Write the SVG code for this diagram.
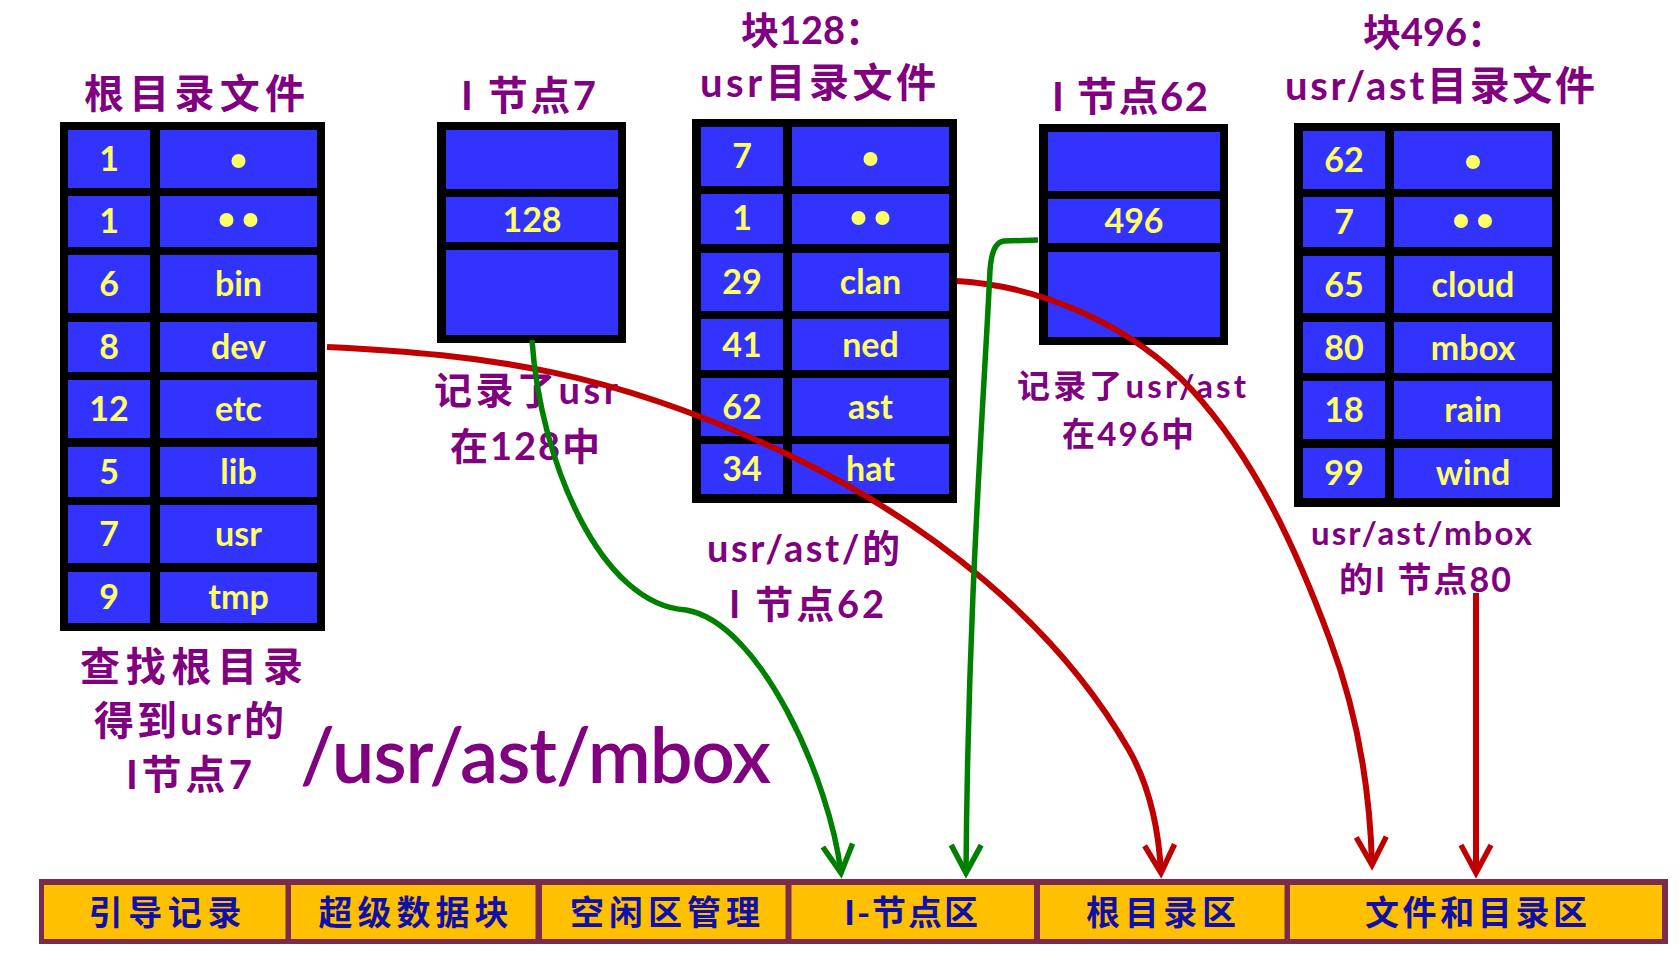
<svg xmlns="http://www.w3.org/2000/svg" width="1680" height="964" viewBox="0 0 1680 964">
<style>
.frame{fill:#000}
.cell{fill:#3333FF}
.c{font-family:Lato,"Liberation Sans",sans-serif;font-weight:bold;font-size:34px;fill:#FFFF66;text-anchor:middle}
.dot{fill:#FFFF66}
.p{font-family:Lato,"Noto Sans CJK SC",sans-serif;font-weight:bold;fill:#800080;text-anchor:middle}
.bar{fill:#7B2C4B}
.seg{fill:#FFC000}
.b{font-family:"Noto Sans CJK SC",sans-serif;font-weight:bold;font-size:34px;fill:#1010A8;text-anchor:middle}
.big{font-family:Lato,"Liberation Sans",sans-serif;font-weight:600;font-size:76px;fill:#800080}
.red{fill:none;stroke:#C00000;stroke-width:6}
.green{fill:none;stroke:#008000;stroke-width:5.5}
</style>
<defs>
<marker id="arR" viewBox="-34 -20 40 40" refX="0" refY="0" markerWidth="40" markerHeight="40" markerUnits="userSpaceOnUse" orient="auto">
<path d="M-28,-15 L0,0 L-28,15" fill="none" stroke="#C00000" stroke-width="5.5"/>
</marker>
<marker id="arG" viewBox="-34 -20 40 40" refX="0" refY="0" markerWidth="40" markerHeight="40" markerUnits="userSpaceOnUse" orient="auto">
<path d="M-28,-15 L0,0 L-28,15" fill="none" stroke="#008000" stroke-width="5.5"/>
</marker>
</defs>
<rect width="1680" height="964" fill="#fff"/>

<g id="root-dir">
<text class="p" x="194.5" y="108" font-size="40" textLength="221">根目录文件</text>
<rect class="frame" x="60" y="122" width="265" height="509"/>
<rect class="cell" x="68" y="130" width="82" height="58"/><rect class="cell" x="160" y="130" width="157" height="58"/>
<rect class="cell" x="68" y="196" width="82" height="51"/><rect class="cell" x="160" y="196" width="157" height="51"/>
<rect class="cell" x="68" y="255" width="82" height="58"/><rect class="cell" x="160" y="255" width="157" height="58"/>
<rect class="cell" x="68" y="322" width="82" height="50"/><rect class="cell" x="160" y="322" width="157" height="50"/>
<rect class="cell" x="68" y="380" width="82" height="58"/><rect class="cell" x="160" y="380" width="157" height="58"/>
<rect class="cell" x="68" y="447" width="82" height="50"/><rect class="cell" x="160" y="447" width="157" height="50"/>
<rect class="cell" x="68" y="505" width="82" height="58"/><rect class="cell" x="160" y="505" width="157" height="58"/>
<rect class="cell" x="68" y="572" width="82" height="51"/><rect class="cell" x="160" y="572" width="157" height="51"/>
<text class="c" x="109" y="171">1</text><circle class="dot" cx="238.5" cy="161" r="7"/>
<text class="c" x="109" y="233">1</text><circle class="dot" cx="226.5" cy="220" r="7"/><circle class="dot" cx="250.5" cy="220" r="7"/>
<text class="c" x="109" y="296">6</text><text class="c" x="238.5" y="296">bin</text>
<text class="c" x="109" y="359">8</text><text class="c" x="238.5" y="359">dev</text>
<text class="c" x="109" y="421">12</text><text class="c" x="238.5" y="421">etc</text>
<text class="c" x="109" y="484">5</text><text class="c" x="238.5" y="484">lib</text>
<text class="c" x="109" y="546">7</text><text class="c" x="238.5" y="546">usr</text>
<text class="c" x="109" y="609">9</text><text class="c" x="238.5" y="609">tmp</text>
</g>

<g id="inode7">
<text class="p" x="528.5" y="110" font-size="40" textLength="135">I 节点7</text>
<rect class="frame" x="437" y="122" width="189" height="221"/>
<rect class="cell" x="446" y="130" width="172" height="59"/>
<rect class="cell" x="446" y="197" width="172" height="45"/>
<rect class="cell" x="446" y="250" width="172" height="85"/>
<text class="c" x="532" y="232">128</text>
</g>

<g id="block128">
<text class="p" x="741" y="44" font-size="38" style="text-anchor:start">块128：</text>
<text class="p" x="818" y="97" font-size="40" textLength="236">usr目录文件</text>
<rect class="frame" x="692" y="119" width="265" height="384"/>
<rect class="cell" x="701" y="127" width="82" height="59"/><rect class="cell" x="792" y="127" width="157" height="59"/>
<rect class="cell" x="701" y="194" width="82" height="50"/><rect class="cell" x="792" y="194" width="157" height="50"/>
<rect class="cell" x="701" y="253" width="82" height="58"/><rect class="cell" x="792" y="253" width="157" height="58"/>
<rect class="cell" x="701" y="319" width="82" height="51"/><rect class="cell" x="792" y="319" width="157" height="51"/>
<rect class="cell" x="701" y="378" width="82" height="58"/><rect class="cell" x="792" y="378" width="157" height="58"/>
<rect class="cell" x="701" y="444" width="82" height="50"/><rect class="cell" x="792" y="444" width="157" height="50"/>
<text class="c" x="742" y="168">7</text><circle class="dot" cx="870.5" cy="159" r="7"/>
<text class="c" x="742" y="230">1</text><circle class="dot" cx="858.5" cy="218" r="7"/><circle class="dot" cx="882.5" cy="218" r="7"/>
<text class="c" x="742" y="294">29</text><text class="c" x="870.5" y="294">clan</text>
<text class="c" x="742" y="357">41</text><text class="c" x="870.5" y="357">ned</text>
<text class="c" x="742" y="419">62</text><text class="c" x="870.5" y="419">ast</text>
<text class="c" x="742" y="481">34</text><text class="c" x="870.5" y="481">hat</text>
</g>

<g id="inode62">
<text class="p" x="1130" y="111" font-size="40" textLength="156">I 节点62</text>
<rect class="frame" x="1039" y="124" width="189" height="221"/>
<rect class="cell" x="1048" y="132" width="172" height="59"/>
<rect class="cell" x="1048" y="199" width="172" height="44"/>
<rect class="cell" x="1048" y="252" width="172" height="85"/>
<text class="c" x="1134" y="233">496</text>
</g>

<g id="block496">
<text class="p" x="1363" y="46" font-size="38" style="text-anchor:start">块496：</text>
<text class="p" x="1440" y="100" font-size="40" textLength="310">usr/ast目录文件</text>
<rect class="frame" x="1294" y="123" width="266" height="384"/>
<rect class="cell" x="1303" y="131" width="82" height="58"/><rect class="cell" x="1394" y="131" width="158" height="58"/>
<rect class="cell" x="1303" y="197" width="82" height="50"/><rect class="cell" x="1394" y="197" width="158" height="50"/>
<rect class="cell" x="1303" y="256" width="82" height="57"/><rect class="cell" x="1394" y="256" width="158" height="57"/>
<rect class="cell" x="1303" y="322" width="82" height="51"/><rect class="cell" x="1394" y="322" width="158" height="51"/>
<rect class="cell" x="1303" y="381" width="82" height="58"/><rect class="cell" x="1394" y="381" width="158" height="58"/>
<rect class="cell" x="1303" y="448" width="82" height="50"/><rect class="cell" x="1394" y="448" width="158" height="50"/>
<text class="c" x="1344" y="172">62</text><circle class="dot" cx="1473" cy="162" r="7"/>
<text class="c" x="1344" y="234">7</text><circle class="dot" cx="1461" cy="221" r="7"/><circle class="dot" cx="1485" cy="221" r="7"/>
<text class="c" x="1344" y="297">65</text><text class="c" x="1473" y="297">cloud</text>
<text class="c" x="1344" y="360">80</text><text class="c" x="1473" y="360">mbox</text>
<text class="c" x="1344" y="422">18</text><text class="c" x="1473" y="422">rain</text>
<text class="c" x="1344" y="485">99</text><text class="c" x="1473" y="485">wind</text>
</g>

<g id="labels">
<text class="p" x="526" y="404" font-size="38" textLength="184">记录了usr</text>
<text class="p" x="525" y="460" font-size="38" textLength="150">在128中</text>
<text class="p" x="803.5" y="562" font-size="38" textLength="193">usr/ast/的</text>
<text class="p" x="806.5" y="618" font-size="38" textLength="155">I 节点62</text>
<text class="p" x="1131.5" y="398" font-size="33" textLength="229">记录了usr/ast</text>
<text class="p" x="1128" y="446" font-size="33" textLength="132">在496中</text>
<text class="p" x="1421.5" y="545" font-size="33" textLength="221">usr/ast/mbox</text>
<text class="p" x="1425" y="592" font-size="34" textLength="172">的I 节点80</text>
<text class="p" x="191.5" y="681" font-size="40" textLength="223">查找根目录</text>
<text class="p" x="189" y="735" font-size="40" textLength="190">得到usr的</text>
<text class="p" x="189" y="789" font-size="40" textLength="126">I节点7</text>
<text class="big" x="300" y="783" textLength="471">/usr/ast/mbox</text>
</g>

<g id="disk-layout">
<rect class="bar" x="39" y="879" width="1629" height="65"/>
<rect class="seg" x="44" y="885" width="241.5" height="54"/>
<rect class="seg" x="291" y="885" width="244.5" height="54"/>
<rect class="seg" x="542" y="885" width="243.5" height="54"/>
<rect class="seg" x="791.5" y="885" width="242.5" height="54"/>
<rect class="seg" x="1040" y="885" width="244.5" height="54"/>
<rect class="seg" x="1290" y="885" width="372" height="54"/>
<text class="b" x="165" y="925" textLength="153">引导记录</text>
<text class="b" x="413.5" y="925" textLength="190">超级数据块</text>
<text class="b" x="665" y="925" textLength="190">空闲区管理</text>
<text class="b" x="911" y="925" textLength="134">I-节点区</text>
<text class="b" x="1161" y="925" textLength="150">根目录区</text>
<text class="b" x="1476" y="925" textLength="222">文件和目录区</text>
</g>

<g id="connectors">
<path class="red" marker-end="url(#arR)" d="M327,347 C487,355 613,370 793,457 C927,522 1055,621 1129,750 C1150,787 1159,833 1161,873"/>
<path class="red" marker-end="url(#arR)" d="M957,281 C1043,286 1134,327 1192,390 C1256,460 1297,551 1330,640 C1357,712 1370,789 1372,865"/>
<path class="red" marker-end="url(#arR)" d="M1476,593 L1476,873"/>
<path class="green" marker-end="url(#arG)" d="M532,340 C540,460 600,605 686,610 C760,622 830,780 841,873"/>
<path class="green" marker-end="url(#arG)" d="M1038,240 L1004,241 Q992,242 990,270 C984,400 968,600 966,873"/>
</g>
</svg>
